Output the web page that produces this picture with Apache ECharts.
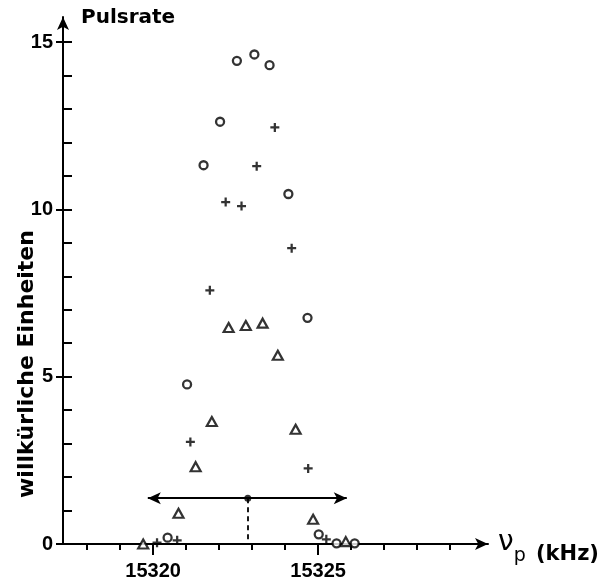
<!DOCTYPE html>
<html>
<head>
<meta charset="utf-8">
<script src="https://cdn.jsdelivr.net/npm/echarts@6/dist/echarts.min.js"></script>
<style>html,body{margin:0;padding:0;background:#fff;}#c{width:603px;height:587px;}</style>
</head>
<body>
<div id="c"></div>
<script>
// Data (x in kHz, y in arbitrary units)
var circleData = [
  [15322.54, 14.44], [15323.07, 14.63], [15323.53, 14.31], [15322.03, 12.62],
  [15321.53, 11.32], [15324.10, 10.46], [15324.68, 6.76], [15321.03, 4.77],
  [15320.44, 0.19], [15325.02, 0.29], [15325.56, 0.02], [15326.11, 0.02]
];
var plusData = [
  [15323.69, 12.45], [15323.14, 11.29], [15322.20, 10.22], [15322.68, 10.10],
  [15324.20, 8.84], [15321.72, 7.58], [15321.13, 3.05], [15324.70, 2.26],
  [15320.12, 0.04], [15320.73, 0.11], [15325.25, 0.14]
];
var triangleData = [
  [15322.29, 6.47], [15322.81, 6.53], [15323.32, 6.60], [15323.78, 5.64],
  [15321.78, 3.66], [15324.32, 3.43], [15321.29, 2.31], [15320.77, 0.92],
  [15324.85, 0.74], [15319.70, 0.00], [15325.84, 0.07]
];
var widthRange = [15319.84, 15325.87];
var widthLevel = 1.37;
var centerFreq = 15322.87;

var xLabelValues = [15320, 15325];
var xMinorTicks = [15318, 15319, 15320, 15321, 15322, 15323, 15324, 15325, 15326, 15327, 15328, 15329];
var yLabelValues = [0, 5, 10, 15];
var yMinorTicks = [1, 2, 3, 4, 5, 6, 7, 8, 9, 10, 11, 12, 13, 14, 15];

var xMin = 15317.27, xMax = 15330.15;
var yMin = 0, yMax = 15.75;

var plusPath = 'path://M3.75,0 L6.25,0 L6.25,3.75 L10,3.75 L10,6.25 L6.25,6.25 L6.25,10 L3.75,10 L3.75,6.25 L0,6.25 L0,3.75 L3.75,3.75 Z';
var labelFont = 'Liberation Sans';
var titleFont = 'DejaVu Sans';

var chart = echarts.init(document.getElementById('c'), null, {renderer: 'canvas'});
chart.setOption({
  backgroundColor: '#fff',
  animation: false,
  grid: {left: 63, top: 17, width: 425, height: 527, containLabel: false},
  xAxis: [{
    type: 'value', min: xMin, max: xMax, position: 'bottom',
    axisLine: {show: true, onZero: false, lineStyle: {color: '#000', width: 2},
      symbol: ['none', 'arrow'], symbolSize: [9, 13], symbolOffset: [0, 0]},
    axisTick: {show: true, inside: false, length: 11, lineStyle: {color: '#000', width: 2}, customValues: xLabelValues},
    axisLabel: {show: true, customValues: xLabelValues, margin: 17, color: '#000',
      fontFamily: labelFont, fontWeight: 'bold', fontSize: 20,
      formatter: function (v) { return String(v); }},
    splitLine: {show: false},
    name: '{nu|ν}{p|p}{u| (kHz)}',
    nameLocation: 'end', nameGap: 10,
    nameTextStyle: {
      align: 'left', verticalAlign: 'middle', color: '#000',
      rich: {
        nu: {fontFamily: titleFont, fontSize: 28, color: '#000', verticalAlign: 'middle', padding: [0, 0, 2, 0]},
        p: {fontFamily: titleFont, fontSize: 19, color: '#000', verticalAlign: 'bottom', padding: [22, 3, 0, 0]},
        u: {fontFamily: titleFont, fontWeight: 'bold', fontSize: 21, color: '#000', verticalAlign: 'bottom', padding: [22, 0, 0, 0]}
      }
    }
  }, {
    type: 'value', min: xMin, max: xMax, position: 'bottom',
    axisLine: {show: false, onZero: false},
    axisTick: {show: true, inside: false, length: 6, lineStyle: {color: '#000', width: 2}, customValues: xMinorTicks},
    axisLabel: {show: false},
    splitLine: {show: false}
  }],
  yAxis: [{
    type: 'value', min: yMin, max: yMax, position: 'left',
    axisLine: {show: true, onZero: false, lineStyle: {color: '#000', width: 2},
      symbol: ['none', 'arrow'], symbolSize: [9, 13], symbolOffset: [0, 0]},
    axisTick: {show: true, inside: false, length: 7, lineStyle: {color: '#000', width: 2}, customValues: yLabelValues},
    axisLabel: {show: true, customValues: yLabelValues, margin: 10, color: '#000',
      fontFamily: labelFont, fontWeight: 'bold', fontSize: 20},
    splitLine: {show: false}
  }, {
    type: 'value', min: yMin, max: yMax, position: 'left',
    axisLine: {show: false, onZero: false},
    axisTick: {show: true, inside: true, length: 9, lineStyle: {color: '#000', width: 2}, customValues: yMinorTicks},
    axisLabel: {show: false},
    splitLine: {show: false}
  }],
  graphic: [
    {type: 'text', left: 81, top: 8,
      style: {text: 'Pulsrate', fill: '#000', fontFamily: titleFont, fontWeight: 'bold', fontSize: 20}},
    {type: 'text', x: 27, y: 364, rotation: Math.PI / 2,
      style: {text: 'willkürliche Einheiten', fill: '#000', fontFamily: titleFont, fontWeight: 'bold', fontSize: 22,
        align: 'center', verticalAlign: 'middle'}}
  ],
  series: [
    {type: 'scatter', name: 'o', data: circleData, symbol: 'circle', symbolSize: 8,
      itemStyle: {color: '#fff', borderColor: '#000', borderWidth: 2.3}, z: 5},
    {type: 'scatter', name: '+', data: plusData, symbol: plusPath, symbolSize: 9,
      itemStyle: {color: '#000'}, z: 5},
    {type: 'scatter', name: 'tri', data: triangleData, symbol: 'triangle', symbolSize: [10, 9],
      itemStyle: {color: '#fff', borderColor: '#000', borderWidth: 2.2}, z: 5},
    {type: 'scatter', name: 'center', data: [[centerFreq, widthLevel]], symbol: 'circle', symbolSize: 7,
      itemStyle: {color: '#000'}, z: 6,
      markLine: {
        silent: true, animation: false,
        label: {show: false},
        data: [
          [{coord: [widthRange[0], widthLevel], symbol: 'arrow'}, {coord: [widthRange[1], widthLevel], symbol: 'arrow'}],
          [{coord: [centerFreq, widthLevel], symbol: 'none', lineStyle: {type: [5, 4], width: 1.8, color: '#000'}},
           {coord: [centerFreq, 0], symbol: 'none'}]
        ],
        symbolSize: [9, 13],
        lineStyle: {color: '#000', width: 2, type: 'solid'}
      }}
  ]
});
</script>
</body>
</html>
